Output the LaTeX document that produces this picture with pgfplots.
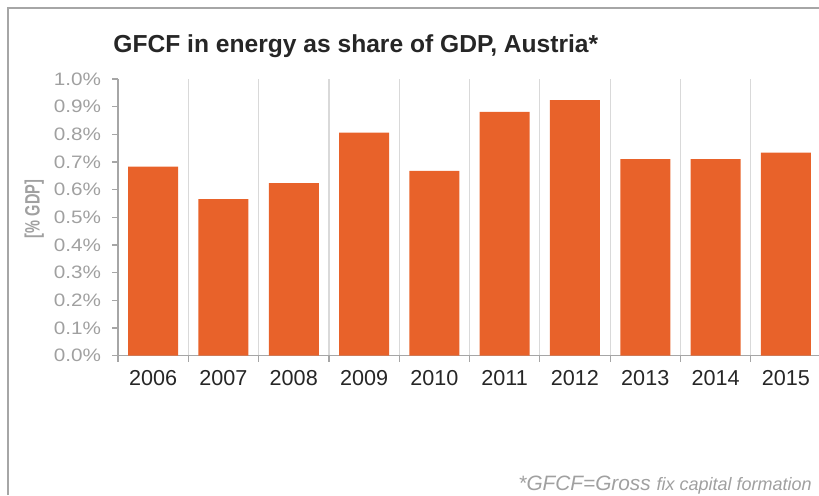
\documentclass[border=0pt]{standalone}
\usepackage{pgfplots}
\pgfplotsset{compat=1.18}
\usepackage{fontspec}
\setmainfont{Liberation Sans}
\newfontfamily\ytfont[FakeStretch=1.15]{Liberation Sans}
\newfontfamily\ylfont[FakeStretch=0.7]{Liberation Sans}
\definecolor{barorange}{HTML}{E8622A}
\definecolor{gridgray}{HTML}{D9D9D9}
\definecolor{axisgray}{HTML}{A6A6A6}
\definecolor{labelgray}{HTML}{A0A0A0}
\definecolor{darktext}{HTML}{262626}
\begin{document}
% 1 px of the reference = 0.5pt, y measured from the bottom
\begin{tikzpicture}[x=0.5pt,y=0.5pt]
\useasboundingbox (0,0) rectangle (819,495);
% frame (top and left only)
\draw[axisgray,line width=0.6pt] (8,0) -- (8,487) -- (819,487);
\node[anchor=base west,font=\fontsize{12.3}{14}\selectfont\bfseries,text=darktext,inner sep=0pt] at (113,443) {GFCF in energy as share of GDP, Austria*};
\node[anchor=base east,text=labelgray,inner sep=0pt] at (812,5) {\itshape\fontsize{10.4}{12}\selectfont *GFCF=Gross \fontsize{9}{11}\selectfont fix capital formation};
\begin{axis}[
  at={(59pt,69.7pt)}, anchor=south west,
  scale only axis,
  width=351.5pt, height=138.3pt,
  xmin=-0.5, xmax=9.5,
  ymin=0, ymax=1.0,
  axis x line*=bottom, axis y line*=left,
  axis line style={axisgray,line width=0.6pt,-},
  xtick={0,1,2,3,4,5,6,7,8,9},
  xticklabels={2006,2007,2008,2009,2010,2011,2012,2013,2014,2015},
  minor xtick={-0.5,0.5,1.5,2.5,3.5,4.5,5.5,6.5,7.5,8.5,9.5},
  major x tick style={draw=none},
  minor x tick style={axisgray,line width=0.6pt},
  minor tick length=3pt,
  xminorgrids=true,
  minor x grid style={gridgray,line width=0.6pt},
  x tick label style={font=\fontsize{10.8}{12}\selectfont,text=darktext,yshift=-1pt},
  ytick={0,0.1,0.2,0.3,0.4,0.5,0.6,0.7,0.8,0.9,1.0},
  yticklabels={0.0\%,0.1\%,0.2\%,0.3\%,0.4\%,0.5\%,0.6\%,0.7\%,0.8\%,0.9\%,1.0\%},
  y tick style={axisgray,line width=0.6pt},
  major tick length=3pt,
  tick align=outside,
  y tick label style={font=\ytfont\fontsize{9}{10}\selectfont,text=labelgray,xshift=-2pt},
  ylabel={[\% GDP]},
  every axis y label/.style={at={(ticklabel cs:0.53)},rotate=90,anchor=south,yshift=-2pt,
    font=\ylfont\fontsize{10.4}{12}\selectfont\bfseries,text=labelgray},
  clip=false,
]
\addplot[ybar,bar width=25pt,fill=barorange,draw=none] coordinates {
  (0,0.683) (1,0.566) (2,0.624) (3,0.806) (4,0.668)
  (5,0.881) (6,0.924) (7,0.710) (8,0.710) (9,0.734)
};
\end{axis}
\end{tikzpicture}
\end{document}
